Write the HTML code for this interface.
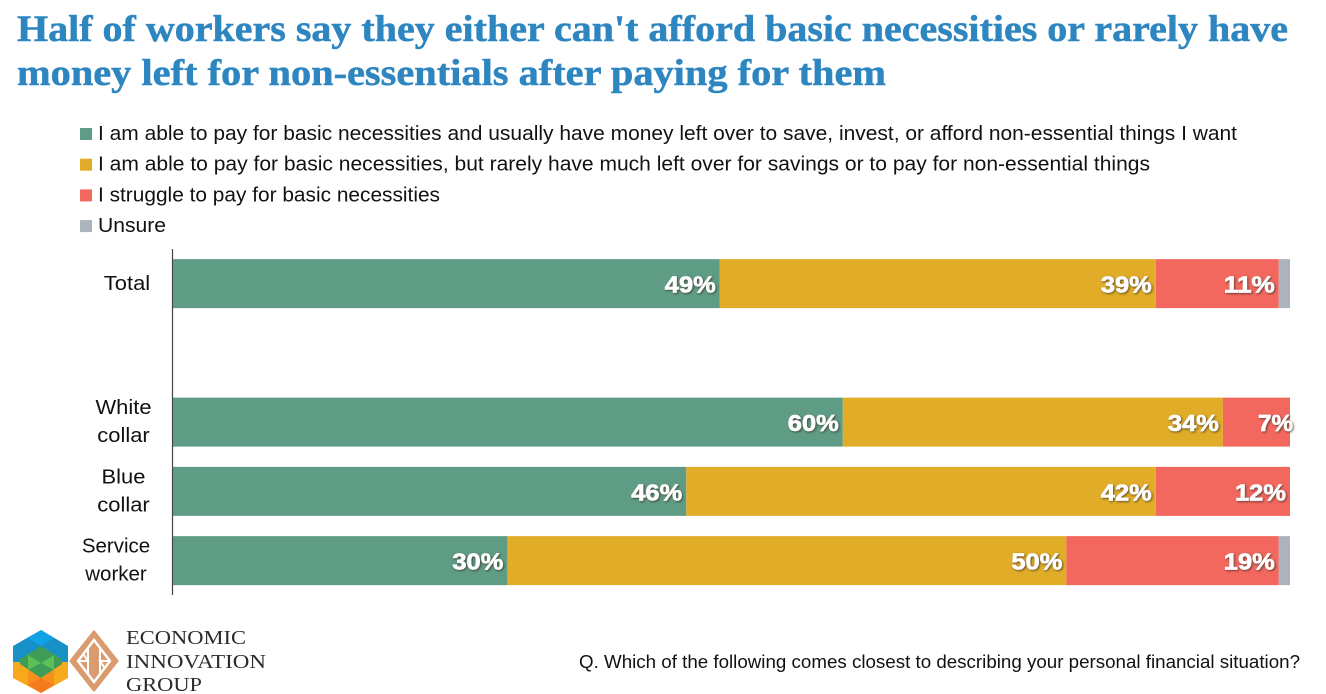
<!DOCTYPE html>
<html lang="en">
<head>
<meta charset="utf-8">
<title>Half of workers say they either can't afford basic necessities</title>
<style>
html,body{margin:0;padding:0;background:#fff;width:1326px;height:694px;overflow:hidden}
svg{display:block}
text{font-family:"Liberation Sans",sans-serif}
.title{font-family:"Liberation Serif",serif;font-weight:700;font-size:37px;fill:#2E86C1;stroke:#2E86C1;stroke-width:.5px}
.legend-text{font-size:20px;fill:#111}
.cat{font-size:20.5px;fill:#111}
.val{font-size:23px;font-weight:700;fill:#fff;stroke:#fff;stroke-width:.7px}
#vals{filter:drop-shadow(1px 1px 1px rgba(50,40,30,.7))}
.org{font-family:"Liberation Serif",serif;font-size:20px;fill:#2c2c2c}
.note{font-size:18px;fill:#111}
</style>
</head>
<body>
<svg id="chart" width="1326" height="694" viewBox="0 0 1326 694" xmlns="http://www.w3.org/2000/svg">
  <text class="title" x="17" y="41" textLength="1271" lengthAdjust="spacingAndGlyphs">Half of workers say they either can't afford basic necessities or rarely have</text>
  <text class="title" x="17" y="85" textLength="869" lengthAdjust="spacingAndGlyphs">money left for non-essentials after paying for them</text>
  <g id="legend"></g>
  <g id="bars"></g>
  <g id="cats"></g>
  <line x1="172.5" y1="249" x2="172.5" y2="595" stroke="#444" stroke-width="1.2"/>
  <g id="vals"></g>

  <g>
    <g>
      <polygon points="41,630 68,646 68,662 41,662 13,662 13,646" fill="#1790C8"/>
      <polygon points="41,630 54,638 41,646 28,638" fill="#0FA3E6"/>
      <polygon points="13,662 68,662 68,678 41,693 13,678" fill="#F7A81B"/>
      <polygon points="41,646 62,659 62,664 41,678 20,664 20,659" fill="#3F9C57"/>
      <polygon points="28,655 41,663 28,670" fill="#5CBF5A"/>
      <polygon points="54,655 41,663 54,670" fill="#5CBF5A"/>
      <polygon points="28,670 41,678 41,693 28,685" fill="#F58F1E"/>
      <polygon points="54,670 41,678 41,693 54,685" fill="#F58F1E"/>
      <polygon points="41,678 54,685 41,693 28,685" fill="#F37B1D"/>
    </g>
    <g>
      <polygon points="94,632 117,661 94,690 71,661" fill="#DA9B6F" stroke="#DA9B6F" stroke-width="3" stroke-linejoin="round"/>
      <polygon points="94,640 110,661 94,682 78,661" fill="none" stroke="#fff" stroke-width="2.4"/>
      <path d="M88,648V674M100,648V674M79,661H88L84,655M109,661H100L104,667" fill="none" stroke="#fff" stroke-width="2"/>
    </g>
    <text class="org" x="126" y="644" textLength="120" lengthAdjust="spacingAndGlyphs">ECONOMIC</text>
    <text class="org" x="126" y="668" textLength="140" lengthAdjust="spacingAndGlyphs">INNOVATION</text>
    <text class="org" x="126" y="691" textLength="76" lengthAdjust="spacingAndGlyphs">GROUP</text>
  </g>
  <text class="note" x="579" y="668" textLength="721" lengthAdjust="spacingAndGlyphs">Q. Which of the following comes closest to describing your personal financial situation?</text>
</svg>
<script>
const categories = [["Total"], [], ["White", "collar"], ["Blue", "collar"], ["Service", "worker"]];
const seriesNames = [
  "I am able to pay for basic necessities and usually have money left over to save, invest, or afford non-essential things I want",
  "I am able to pay for basic necessities, but rarely have much left over for savings or to pay for non-essential things",
  "I struggle to pay for basic necessities",
  "Unsure"
];
const haveMoneyLeft = [49, null, 60, 46, 30];
const rarelyLeft = [39, null, 34, 42, 50];
const struggle = [11, null, 7, 12, 19];
const unsure = [1, null, 0, 0, 1];
const colors = ["#5F9C85", "#E1AD28", "#F2685F", "#ADB3BC"];
const legendWidths = [1139, 1052, 342, 68];

const NS = "http://www.w3.org/2000/svg";
const series = [haveMoneyLeft, rarelyLeft, struggle, unsure];
const plotLeft = 172, plotRight = 1290, plotTop = 249, bandStep = 69.25, barHeight = 49;
const x = v => plotLeft + Math.min(v, 100) / 100 * (plotRight - plotLeft);
const bandCenter = i => plotTop + bandStep * (i + 0.5);

function make(tag, attrs, parent, text) {
  const el = document.createElementNS(NS, tag);
  for (const k in attrs) el.setAttribute(k, attrs[k]);
  if (text !== undefined) el.textContent = text;
  parent.appendChild(el);
  return el;
}

const legendG = document.getElementById("legend");
seriesNames.forEach((name, i) => {
  const y = 134 + i * 30.7;
  const sw = make("rect", {x: 80, y: y - 6, width: 12, height: 12, fill: colors[i]}, legendG);
  
  
  const t = make("text", {class: "legend-text", x: 98, y: y + 6, textLength: legendWidths[i], lengthAdjust: "spacingAndGlyphs"}, legendG, name);
  
  
});

const barsG = document.getElementById("bars");
const valsG = document.getElementById("vals");
const catsG = document.getElementById("cats");
categories.forEach((lines, c) => {
  const cy = bandCenter(c);
  lines.forEach((line, li) => {
    const dy = lines.length === 1 ? 6.5 : (li === 0 ? -8 : 20);
    const t = make("text", {class: "cat", x: 123.5, y: cy + dy, "text-anchor": "middle"}, catsG, line);
    if (lines[0] === "Service") t.setAttribute("x", 116);
    if (lines[0] === "Total") t.setAttribute("x", 127);
    t.setAttribute("lengthAdjust", "spacingAndGlyphs");
    t.setAttribute("textLength", t.getComputedTextLength() * (lines[0] === "Service" ? 1 : 1.07));
    
    
  });
  let cum = 0;
  series.forEach((s, i) => {
    const v = s[c];
    if (v === null || v === 0) return;
    const x0 = x(cum), x1 = x(cum + v);
    cum += v;
    const r = make("rect", {x: x0, y: cy - barHeight / 2, width: x1 - x0, height: barHeight, fill: colors[i]}, barsG);
    
    
    if (i < 3) {
      const label = v + "%";
      const labelX = cum > 100 ? plotRight + 3 : x1 - 4;
      const t = make("text", {class: "val", x: labelX, y: cy + 9, "text-anchor": "end", lengthAdjust: "spacingAndGlyphs", textLength: label.length * 16 + 3}, valsG, label);
      
      
    }
  });
});
</script>
</body>
</html>
